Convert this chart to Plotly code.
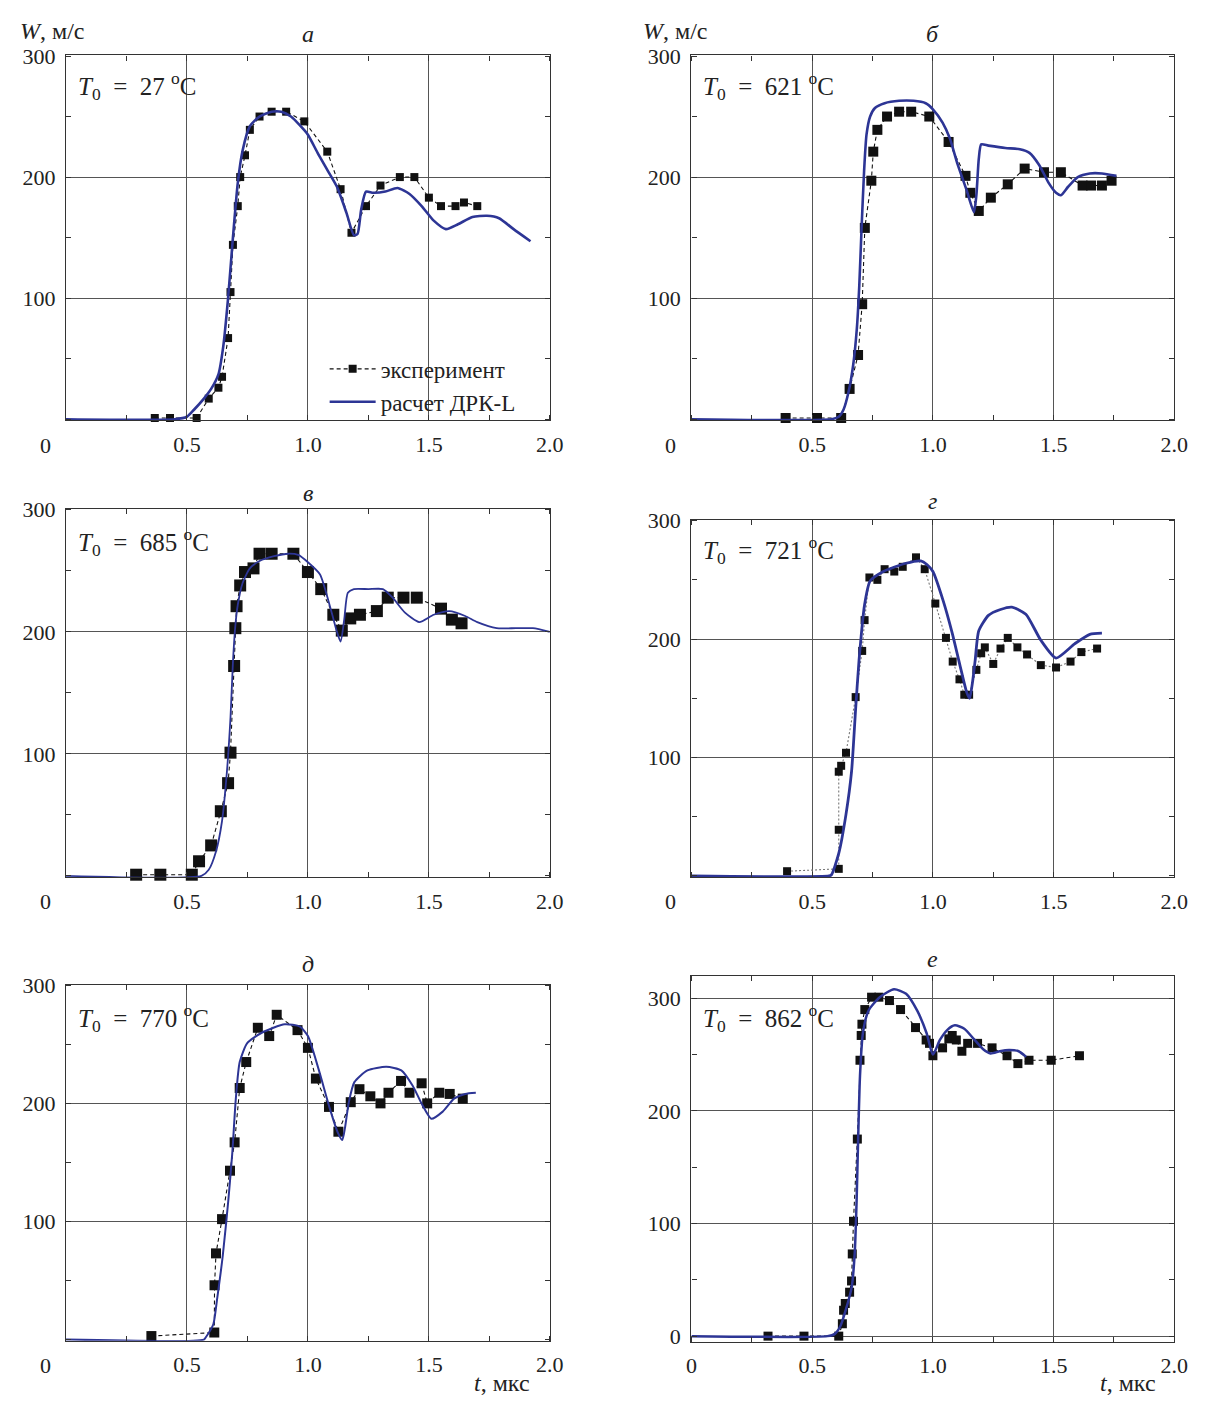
import plotly.graph_objects as go

W_PX, H_PX = 1209, 1405
FONT = "Liberation Serif"
BLUE = "#2d3595"

# ---------------- data: t (мкс), W (м/с) ----------------
# panel а, T0 = 27 °C
t_exp_a = [0.367, 0.43, 0.54, 0.59, 0.63, 0.645, 0.67, 0.68, 0.69, 0.71, 0.72, 0.74, 0.76, 0.80, 0.85,
           0.91, 0.985, 1.08, 1.135, 1.18, 1.24, 1.30, 1.38, 1.44, 1.50, 1.55, 1.61, 1.645, 1.70]
w_exp_a = [1, 1, 1, 17, 26, 35, 67, 105, 144, 176, 200, 218, 239, 250, 254,
           254, 246, 221, 190, 154, 176, 193, 200, 200, 183, 176, 176, 179, 176]
t_calc_a = [0, 0.45, 0.50, 0.53, 0.57, 0.60, 0.63, 0.65, 0.67, 0.69, 0.71, 0.73, 0.76, 0.80, 0.85, 0.89,
            0.93, 0.97, 1.00, 1.04, 1.08, 1.12, 1.16, 1.19, 1.205, 1.22, 1.24, 1.27, 1.32, 1.37, 1.42,
            1.47, 1.52, 1.57, 1.62, 1.68, 1.74, 1.79, 1.85, 1.92]
w_calc_a = [0, 0, 2, 8, 17, 25, 37, 60, 100, 150, 195, 222, 242, 250, 254, 254,
            250, 242, 235, 220, 206, 192, 170, 152, 153, 173, 188, 187, 188, 191, 186,
            176, 164, 157, 161, 167, 168, 166, 157, 147]

# panel б, T0 = 621 °C
t_exp_b = [0.39, 0.52, 0.62, 0.655, 0.69, 0.707, 0.718, 0.745, 0.753, 0.77, 0.81, 0.86, 0.91, 0.985,
           1.065, 1.135, 1.155, 1.19, 1.24, 1.31, 1.38, 1.46, 1.53, 1.62, 1.655, 1.70, 1.74]
w_exp_b = [1, 1, 1, 25, 53, 95, 158, 197, 221, 239, 250, 254, 254, 250,
           229, 201, 187, 172, 183, 194, 207, 204, 204, 193, 193, 193, 197]
t_calc_b = [0, 0.58, 0.61, 0.63, 0.65, 0.67, 0.685, 0.695, 0.705, 0.715, 0.725, 0.74, 0.76, 0.80, 0.86,
            0.92, 0.97, 1.00, 1.04, 1.07, 1.10, 1.14, 1.17, 1.18, 1.19, 1.20, 1.23, 1.30, 1.36, 1.40,
            1.44, 1.48, 1.51, 1.53, 1.56, 1.60, 1.65, 1.70, 1.76]
w_calc_b = [0, 0, 2, 8, 22, 45, 75, 110, 160, 205, 235, 250, 257, 261, 263,
            263, 261, 256, 245, 232, 212, 189, 171, 185, 215, 227, 226, 224, 223, 220,
            210, 195, 187, 185, 192, 200, 203, 203, 201]

# panel в, T0 = 685 °C
t_exp_v = [0.29, 0.39, 0.52, 0.55, 0.60, 0.64, 0.67, 0.68, 0.695, 0.70, 0.705, 0.72, 0.74, 0.775, 0.80,
           0.85, 0.94, 1.0, 1.055, 1.105, 1.14, 1.175, 1.215, 1.285, 1.33, 1.395, 1.45, 1.55, 1.595, 1.635]
w_exp_v = [1, 1, 1, 12, 25, 53, 76, 101, 172, 203, 221, 238, 249, 252, 264,
           264, 264, 249, 235, 214, 201, 211, 214, 217, 228, 228, 228, 219, 210, 207]
t_calc_v = [0, 0.56, 0.59, 0.62, 0.645, 0.665, 0.68, 0.69, 0.70, 0.71, 0.73, 0.76, 0.80, 0.86, 0.92,
            0.96, 1.00, 1.05, 1.095, 1.12, 1.135, 1.15, 1.165, 1.19, 1.25, 1.31, 1.35, 1.40, 1.46,
            1.52, 1.585, 1.65, 1.70, 1.78, 1.86, 1.93, 2.00]
w_calc_v = [0, 0, 5, 20, 45, 85, 130, 175, 205, 222, 240, 252, 258, 262, 264,
            263, 257, 247, 218, 200, 192, 210, 232, 235, 235, 235, 228, 216, 208,
            214, 217, 213, 208, 203, 203, 203, 200]

# panel г, T0 = 721 °C
t_exp_g = [0.396, 0.61, 0.61, 0.61, 0.62, 0.64, 0.68, 0.707, 0.717, 0.737, 0.77, 0.80, 0.84, 0.875,
           0.93, 0.966, 1.01, 1.054, 1.082, 1.11, 1.13, 1.15, 1.18, 1.20, 1.215, 1.25, 1.28, 1.31,
           1.35, 1.39, 1.447, 1.51, 1.57, 1.615, 1.68]
w_exp_g = [4, 6, 39, 88, 93, 104, 151, 190, 216, 252, 250, 259, 257, 261,
           269, 259, 230, 201, 181, 166, 153, 153, 174, 188, 193, 179, 192, 201,
           193, 187, 178, 176, 181, 189, 192]
t_calc_g = [0, 0.57, 0.58, 0.61, 0.64, 0.663, 0.679, 0.694, 0.717, 0.74, 0.795, 0.888, 0.95, 0.975,
            1.0, 1.043, 1.08, 1.113, 1.14, 1.152, 1.165, 1.175, 1.19, 1.23, 1.28, 1.327, 1.385,
            1.447, 1.51, 1.587, 1.65, 1.70]
w_calc_g = [0, 0, 1, 19, 52, 88, 138, 182, 229, 249, 257, 264, 266, 263,
            257, 232, 205, 177, 155, 150, 165, 182, 207, 220, 225, 227, 221,
            199, 184, 196, 204, 205]

# panel д, T0 = 770 °C
t_exp_d = [0.353, 0.613, 0.614, 0.62, 0.645, 0.678, 0.697, 0.718, 0.745, 0.793, 0.84, 0.871, 0.957,
           1.0, 1.033, 1.087, 1.126, 1.177, 1.213, 1.258, 1.30, 1.333, 1.385, 1.42, 1.47, 1.493,
           1.543, 1.586, 1.64]
w_exp_d = [3, 6, 46, 73, 102, 143, 167, 213, 235, 264, 257, 275, 262,
           247, 221, 197, 176, 201, 212, 206, 200, 209, 219, 209, 217, 200,
           209, 208, 204]
t_calc_d = [0, 0.57, 0.578, 0.609, 0.625, 0.648, 0.671, 0.687, 0.702, 0.718, 0.749, 0.811, 0.904,
            0.967, 1.0, 1.044, 1.09, 1.122, 1.142, 1.153, 1.169, 1.192, 1.246, 1.324, 1.386, 1.433,
            1.472, 1.51, 1.557, 1.604, 1.65, 1.694]
w_calc_d = [0, 0, 2, 13, 35, 71, 118, 157, 204, 235, 251, 260, 267,
            265, 257, 229, 196, 176, 169, 179, 201, 218, 228, 231, 228, 215,
            199, 187, 193, 204, 208, 209]

# panel е, T0 = 862 °C
t_exp_e = [0.317, 0.466, 0.61, 0.625, 0.63, 0.637, 0.655, 0.663, 0.666, 0.671, 0.687, 0.698, 0.703,
           0.706, 0.718, 0.746, 0.776, 0.82, 0.866, 0.928, 0.972, 0.986, 1.0, 1.04, 1.066, 1.08,
           1.097, 1.12, 1.144, 1.185, 1.245, 1.307, 1.352, 1.398, 1.49, 1.607]
w_exp_e = [0, 0, 0, 11, 23, 29, 39, 49, 73, 102, 175, 245, 267,
           277, 290, 301, 301, 298, 290, 274, 263, 260, 249, 256, 264, 267,
           263, 253, 260, 260, 256, 249, 242, 245, 245, 249]
t_calc_e = [0, 0.563, 0.594, 0.617, 0.64, 0.664, 0.676, 0.684, 0.69, 0.698, 0.71, 0.733, 0.78, 0.839,
            0.889, 0.935, 0.974, 1.0, 1.029, 1.06, 1.091, 1.13, 1.169, 1.207, 1.239, 1.277, 1.316,
            1.355, 1.386]
w_calc_e = [0, 0, 2, 9, 24, 44, 73, 120, 172, 231, 269, 289, 301, 308,
            304, 289, 269, 250, 263, 272, 276, 273, 264, 255, 251, 253, 254,
            253, 248]

panel_letters = ["а", "б", "в", "г", "д", "е"]
temperatures = [27, 621, 685, 721, 770, 862]
x_ticks = [0.5, 1.0, 1.5, 2.0]
x_ticktext = ["0.5", "1.0", "1.5", "2.0"]

# ---------------- panel geometry (pixels: left, right, top, bottom) ----------------
panels = [
    dict(t_exp=t_exp_a, w_exp=w_exp_a, t_calc=t_calc_a, w_calc=w_calc_a,
         box=(61, 553, 44, 414), yr=(-1, 300.5), msize=8, lw=2.6, exp_dash="4px,3px", exp_col="#111"),
    dict(t_exp=t_exp_b, w_exp=w_exp_b, t_calc=t_calc_b, w_calc=w_calc_b,
         box=(697, 1188, 44, 414), yr=(-1, 300.5), msize=10, lw=2.6, exp_dash="4px,3px", exp_col="#111"),
    dict(t_exp=t_exp_v, w_exp=w_exp_v, t_calc=t_calc_v, w_calc=w_calc_v,
         box=(61, 553, 504, 877), yr=(-1, 300.5), msize=12, lw=1.8, exp_dash="4px,3px", exp_col="#111"),
    dict(t_exp=t_exp_g, w_exp=w_exp_g, t_calc=t_calc_g, w_calc=w_calc_g,
         box=(697, 1188, 515, 877), yr=(-1, 300.5), msize=8, lw=2.8, exp_dash="2px,2px", exp_col="#777"),
    dict(t_exp=t_exp_d, w_exp=w_exp_d, t_calc=t_calc_d, w_calc=w_calc_d,
         box=(61, 553, 986, 1347), yr=(-1, 300.5), msize=10, lw=2.0, exp_dash="4px,3px", exp_col="#111"),
    dict(t_exp=t_exp_e, w_exp=w_exp_e, t_calc=t_calc_e, w_calc=w_calc_e,
         box=(697, 1188, 977, 1348), yr=(-5, 320), msize=9, lw=2.5, exp_dash="4px,3px", exp_col="#111"),
]


def fx(px):
    return px / W_PX


def fy(py):
    return 1 - py / H_PX


fig = go.Figure()
layout = dict(
    width=W_PX, height=H_PX, margin=dict(l=0, r=0, t=0, b=0),
    paper_bgcolor="white", plot_bgcolor="white",
    font=dict(family=FONT, size=22, color="#222"),
    showlegend=True,
    legend=dict(x=fx(324), y=fy(340), xanchor="left", yanchor="top",
                bgcolor="rgba(255,255,255,0)", font=dict(family=FONT, size=23, color="#222"),
                tracegroupgap=0, itemwidth=46),
)
annotations = []

for i, p in enumerate(panels):
    n = i + 1
    xa = "x" if n == 1 else f"x{n}"
    ya = "y" if n == 1 else f"y{n}"
    l, r, t, b = p["box"]
    last = (n == 6)

    fig.add_trace(go.Scatter(
        x=p["t_exp"], y=p["w_exp"], xaxis=xa, yaxis=ya, mode="lines+markers",
        line=dict(color=p["exp_col"], width=1.1, dash=p["exp_dash"]),
        marker=dict(symbol="square", size=p["msize"], color="#111"),
        name="эксперимент", showlegend=(n == 1), cliponaxis=False,
    ))
    fig.add_trace(go.Scatter(
        x=p["t_calc"], y=p["w_calc"], xaxis=xa, yaxis=ya, mode="lines",
        line=dict(color=BLUE, width=p["lw"], shape="spline", smoothing=0.6),
        name="расчет ДРК-L", showlegend=(n == 1),
    ))

    axis_common = dict(
        showline=True, mirror="allticks", linecolor="#333", linewidth=1.4,
        showgrid=True, gridcolor="#555", gridwidth=1, zeroline=False,
        ticks="", tickfont=dict(family=FONT, size=22, color="#222"),
    )
    layout["xaxis" if n == 1 else f"xaxis{n}"] = dict(
        axis_common, domain=[fx(l), fx(r)], range=[0, 2], anchor=ya,
        tickvals=([0] + x_ticks) if last else x_ticks,
        ticktext=(["0"] + x_ticktext) if last else x_ticktext,
        ticklabelstandoff=4,
        minor=dict(ticks="inside", ticklen=5, dtick=0.25, tick0=0, tickcolor="#333", showgrid=False),
    )
    layout["yaxis" if n == 1 else f"yaxis{n}"] = dict(
        axis_common, domain=[fy(b), fy(t)], range=list(p["yr"]), anchor=xa,
        tickvals=[0, 100, 200, 300] if last else [100, 200, 300],
        ticklabelstandoff=5,
        minor=dict(ticks="inside", ticklen=5, dtick=50, tick0=0, tickcolor="#333", showgrid=False),
    )

    # panel letter
    title_y = {1: 22, 2: 22, 3: 488, 4: 496, 5: 965, 6: 960}[n]
    annotations.append(dict(
        x=fx((l + r) / 2), y=fy(title_y), xref="paper", yref="paper",
        text=f"<i>{panel_letters[i]}</i>", showarrow=False,
        font=dict(family=FONT, size=24, color="#222"), xanchor="center", yanchor="middle"))

    # initial temperature
    t0_y = {1: 75, 2: 75, 3: 537, 4: 545, 5: 1020, 6: 1020}[n]
    annotations.append(dict(
        x=fx(l + 10), y=fy(t0_y), xref="paper", yref="paper",
        text=f"<i>T</i><sub>0</sub>  =  {temperatures[i]} <sup>o</sup>C", showarrow=False,
        font=dict(family=FONT, size=25, color="#222"), xanchor="left", yanchor="middle"))

    # zero of the time axis, placed at the lower-left corner
    if not last:
        annotations.append(dict(
            x=fx(l - 21), y=fy(b + 25), xref="paper", yref="paper", text="0",
            showarrow=False, font=dict(family=FONT, size=22, color="#222"),
            xanchor="center", yanchor="middle"))

# axis captions
for x0, y0 in [(12, 19), (646, 19)]:
    annotations.append(dict(
        x=fx(x0), y=fy(y0), xref="paper", yref="paper", text="<i>W</i>, м/с",
        showarrow=False, font=dict(family=FONT, size=24, color="#222"),
        xanchor="left", yanchor="middle"))
for x0, y0 in [(474, 1390), (1110, 1390)]:
    annotations.append(dict(
        x=fx(x0), y=fy(y0), xref="paper", yref="paper", text="<i>t</i>, мкс",
        showarrow=False, font=dict(family=FONT, size=24, color="#222"),
        xanchor="left", yanchor="middle"))

layout["annotations"] = annotations
fig.update_layout(**layout)
fig.write_html("out.html")
